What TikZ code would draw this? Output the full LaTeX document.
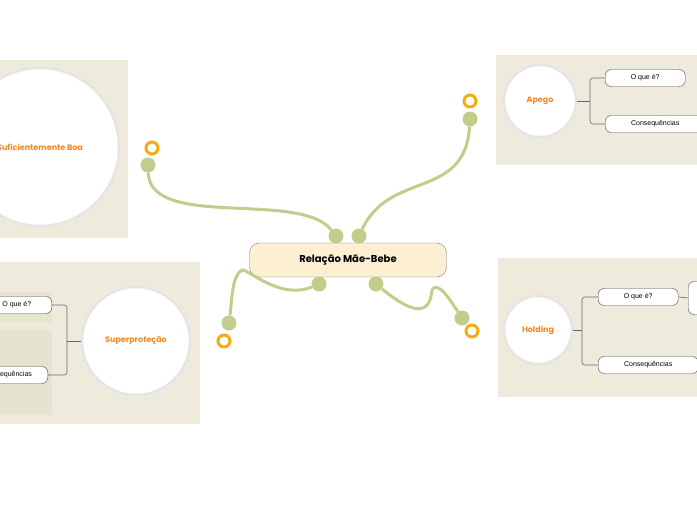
\documentclass[tikz,border=0pt]{standalone}
\usepackage{fontspec}
\setmainfont{Liberation Sans}
\newfontfamily\titlefont{Poppins}
\definecolor{panel}{HTML}{EEEBDD}
\definecolor{inner}{HTML}{E4E4CF}
\definecolor{branch}{HTML}{C2CD8C}
\definecolor{ring}{HTML}{F5AC14}
\definecolor{topic}{HTML}{F28A1E}
\definecolor{cream}{HTML}{FCEFD2}
\begin{document}
\begin{tikzpicture}[x=1pt,y=-1pt,
    panelbox/.style={fill=panel,draw=none},
    bubble/.style={circle,fill=white,draw=black!10,line width=2.5pt,inner sep=0pt,text=topic,font=\titlefont\bfseries\footnotesize},
    leaf/.style={draw=black!70,fill=white,rounded corners=6pt,minimum height=17pt,font=\scriptsize,inner sep=2pt},
    link/.style={draw=branch,line width=3pt},
    dot/.style={circle,fill=branch,minimum size=15pt,inner sep=0pt},
    ring/.style={circle,draw=ring,line width=3pt,minimum size=12pt,inner sep=0pt},
    tie/.style={draw=black!60,semithick,rounded corners=3pt}]
\useasboundingbox (0,0) rectangle (697,520);
% panels
\fill[panelbox] (0,60) rectangle (128,238);
\fill[panelbox] (496,55) rectangle (697,165);
\fill[panelbox] (0,262) rectangle (200,424);
\fill[inner] (0,292) rectangle (52,322);
\fill[inner] (0,330) rectangle (52,415);
\fill[panelbox] (498,258) rectangle (697,397);
\begin{scope}
\clip (0,0) rectangle (697,520);
\node[bubble,minimum size=158pt] (boa) at (40,147) {Suficientemente Boa};
\node[leaf,anchor=east,minimum width=70pt] (sq) at (52,305) {O que é?};
\node[leaf,anchor=east,minimum width=80pt] (sc) at (48,375) {Consequências};
\node[leaf,anchor=west,minimum width=80pt] (aq) at (605,78) {O que é?};
\node[leaf,anchor=west,minimum width=100pt] (ac) at (605,124) {Consequências};
\node[leaf,anchor=west,minimum width=80pt] (hq) at (598,297) {O que é?};
\node[leaf,anchor=west,minimum width=100pt] (hc) at (598,365) {Consequências};
\node[leaf,anchor=west,minimum width=20pt,minimum height=33pt] (hx) at (688,298) {};
\end{scope}
\node[bubble,minimum size=108pt] (super) at (136,341) {Superproteção};
\node[bubble,minimum size=72pt] (apego) at (540,101) {Apego};
\node[bubble,minimum size=68pt] (hold) at (538,330) {Holding};
% ties
\draw[tie] (super.west) -- (67,341);
\draw[tie] (sq.east) -| (67,375) -- (sc.east);
\draw[tie] (apego.east) -- (590,101);
\draw[tie] (aq.west) -| (590,124) -- (ac.west);
\draw[tie] (hold.east) -- (582,330);
\draw[tie] (hq.west) -| (582,365) -- (hc.west);
\draw[tie] (hq.east) -- (hx.west);
% centre
\node[draw=black!50,fill=cream,rounded corners=10pt,minimum width=197pt,minimum height=34pt,font=\titlefont\bfseries] (root) at (348,260) {Relação Mãe-Bebe};
% branches
\node[dot] (d1) at (336,236) {};
\node[dot] (d2) at (359,236) {};
\node[dot] (d3) at (319,284) {};
\node[dot] (d4) at (376,284) {};
\node[dot] (e1) at (148,165) {};
\node[dot] (e2) at (470,119) {};
\node[dot] (e3) at (229,323) {};
\node[dot] (e4) at (462,318) {};
\draw[link] (d1) .. controls (300,190) and (150,230) .. (e1);
\draw[link] (d2) .. controls (390,170) and (465,200) .. (e2);
\draw[link] (d3) .. controls (280,300) and (250,270) .. (242,270) .. controls (232,275) and (232,300) .. (e3);
\draw[link] (d4) .. controls (420,320) and (430,310) .. (432,290) .. controls (438,280) and (450,300) .. (e4);
\node[ring] (r1) at (152,148) {};
\node[ring] (r2) at (470,101) {};
\node[ring] (r3) at (224,341) {};
\node[ring] (r4) at (472,331) {};
\end{tikzpicture}
\end{document}
